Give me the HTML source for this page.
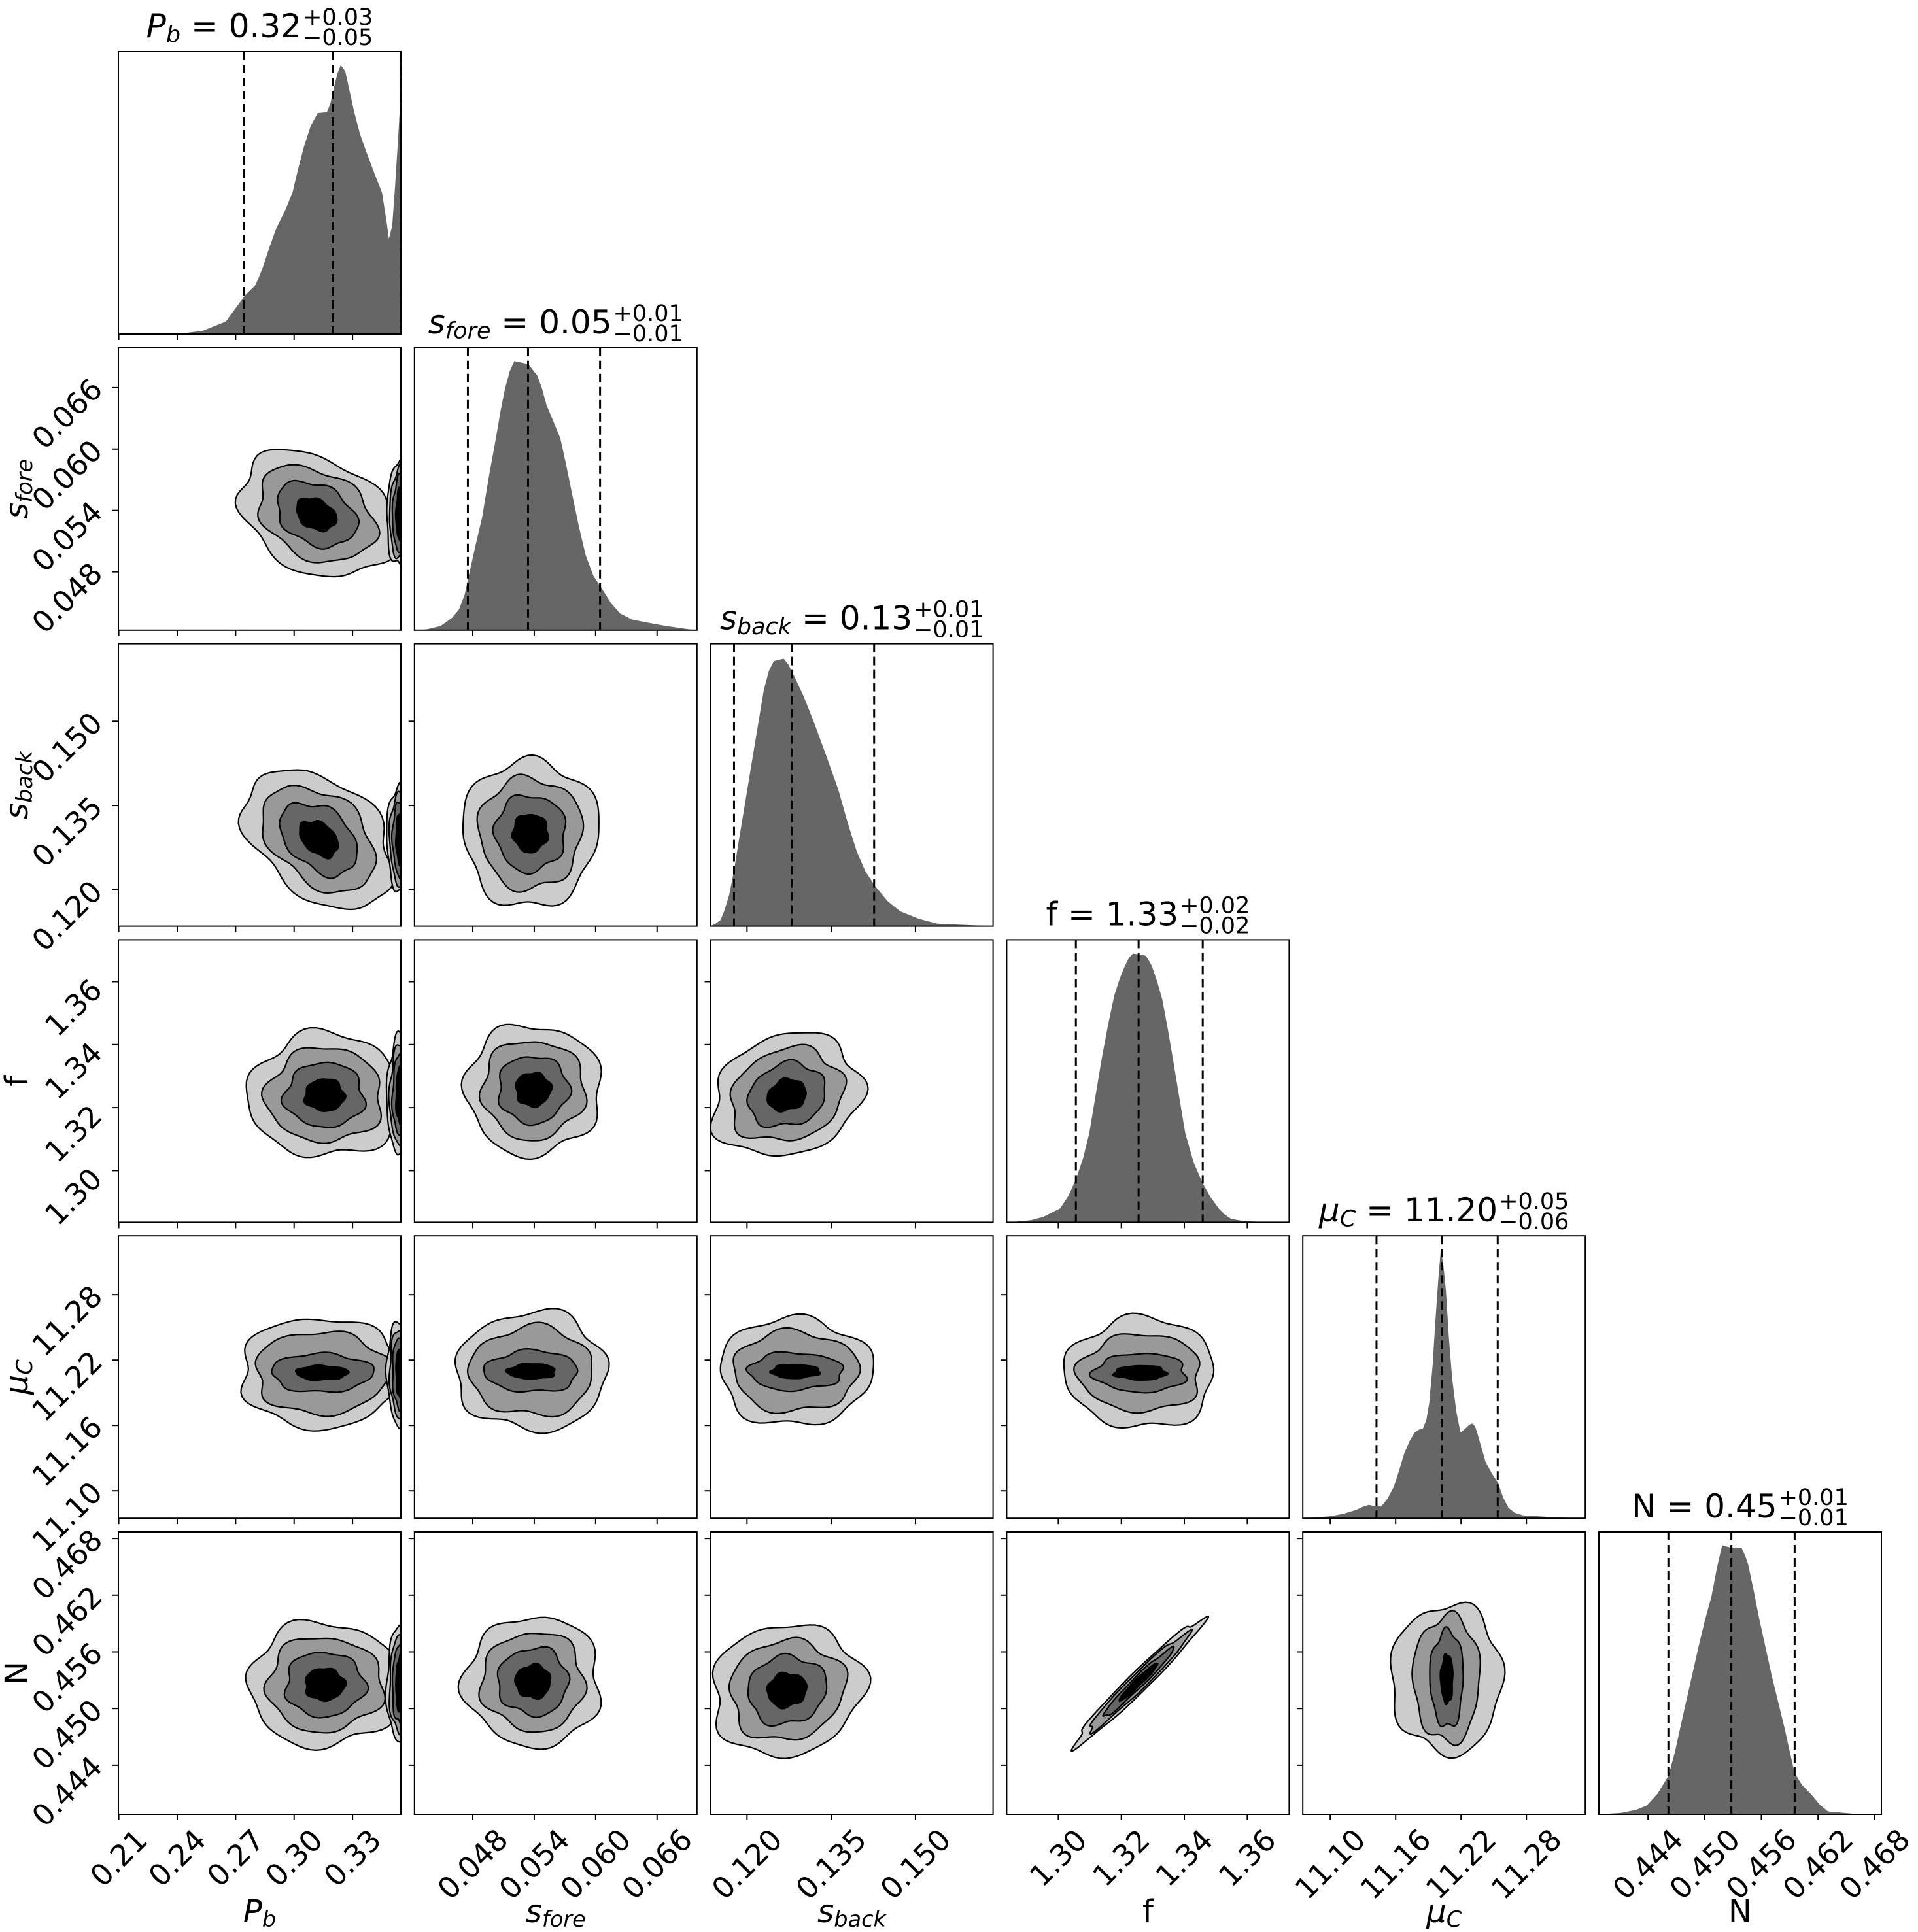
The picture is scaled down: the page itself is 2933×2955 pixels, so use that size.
<!DOCTYPE html>
<html><head><meta charset="utf-8">
<style>html,body{margin:0;padding:0;background:#fff;}svg{display:block;}
text{font-family:"DejaVu Sans","Liberation Sans",sans-serif;fill:#000;}</style></head>
<body>
<svg id="s" xmlns="http://www.w3.org/2000/svg" width="2933" height="2955" viewBox="0 0 2933 2955"></svg>
<script>
var NS="http://www.w3.org/2000/svg";
var svg=document.getElementById('s');
function el(tag,attrs,parent){var e=document.createElementNS(NS,tag);for(var k in attrs)e.setAttribute(k,attrs[k]);(parent||svg).appendChild(e);return e;}
var X0=181,Y0=79,S=452.8,W=432,TF=45;
function px(j){return X0+j*S;} function py(i){return Y0+i*S;}
var V=[
{lo:.2098,hi:.3548,ticks:[.21,.24,.27,.30,.33],d:2},
{lo:.0423,hi:.0699,ticks:[.048,.054,.060,.066],d:3},
{lo:.11351,hi:.16382,ticks:[.120,.135,.150],d:3},
{lo:1.2836,hi:1.3733,ticks:[1.30,1.32,1.34,1.36],d:2},
{lo:11.0748,hi:11.334,ticks:[11.10,11.16,11.22,11.28],d:2},
{lo:.4388,hi:.4687,ticks:[.444,.450,.456,.462,.468],d:3}];
function label(t,k,size){
  var sub=function(s){var ts=el('tspan',{'font-size':size*0.7,'font-style':'italic',dy:size*0.15},t);ts.textContent=s;};
  var main=function(s,it){var ts=el('tspan',{'font-style':it?'italic':'normal'},t);ts.textContent=s;};
  if(k==0){main('P',1);sub('b');}
  else if(k==1){main('s',1);sub('fore');}
  else if(k==2){main('s',1);sub('back');}
  else if(k==3){main('f',0);}
  else if(k==4){main('\u03bc',1);sub('C');}
  else {main('N',0);}
}
var titles=[['0.32','+0.03','\u22120.05'],['0.05','+0.01','\u22120.01'],['0.13','+0.01','\u22120.01'],['1.33','+0.02','\u22120.02'],['11.20','+0.05','\u22120.06'],['0.45','+0.01','\u22120.01']];
var H=[
{b:[256,871,123,798],p:[[256,798],[390,797],[440,790],[490,768],[532,705],[555,680],[570,640],[585,590],[600,545],[620,500],[635,460],[648,400],[660,350],[675,300],[690,270],[710,268],[718,245],[725,210],[733,175],[740,155],[750,170],[760,220],[770,270],[782,320],[795,360],[812,410],[830,460],[840,530],[845,570],[852,540],[858,450],[865,330],[871,215],[871,798]],q:[.445,.76,1.0]},
{b:[903,1517,833,1510],p:[[903,1510],[930,1508],[960,1500],[985,1480],[1000,1460],[1012,1425],[1020,1385],[1035,1310],[1050,1240],[1065,1140],[1080,1050],[1090,985],[1100,930],[1110,890],[1120,865],[1150,872],[1170,900],[1180,930],[1190,970],[1205,1010],[1220,1050],[1232,1110],[1245,1180],[1260,1260],[1275,1330],[1292,1380],[1310,1410],[1330,1445],[1350,1470],[1375,1484],[1400,1490],[1450,1500],[1500,1508],[1517,1510]],q:[.189,.402,.657]},
{b:[577,805,523,750],p:[[577,750],[581,748],[585,745],[588,738],[592,725],[596,705],[600,680],[605,650],[610,620],[615,590],[620,560],[624,545],[628,537],[636,535],[640,540],[645,550],[652,565],[660,585],[670,612],[680,640],[688,668],[695,690],[702,706],[710,718],[720,730],[730,738],[745,744],[760,748],[805,750]],q:[.083,.289,.579]},
{b:[62,739,137,813],p:[[62,813],[90,811],[120,808],[150,800],[190,780],[210,750],[228,710],[245,660],[260,600],[275,510],[290,420],[305,340],[320,270],[333,230],[345,200],[355,180],[365,170],[395,175],[403,187],[410,200],[422,235],[435,280],[448,350],[460,420],[475,510],[490,600],[510,670],[532,720],[550,752],[570,780],[585,795],[600,805],[630,810],[670,812],[739,813]],q:[.245,.467,.694]},
{b:[772,1449,849,1525],p:[[772,1525],[840,1520],[870,1514],[900,1505],[915,1498],[930,1493],[945,1496],[960,1497],[975,1478],[990,1450],[1003,1410],[1015,1370],[1028,1340],[1040,1320],[1050,1313],[1060,1310],[1068,1290],[1075,1250],[1083,1160],[1090,1050],[1097,950],[1103,880],[1109,920],[1115,980],[1122,1090],[1130,1190],[1140,1270],[1150,1320],[1162,1310],[1170,1302],[1178,1298],[1185,1305],[1190,1320],[1200,1355],[1210,1390],[1225,1418],[1240,1440],[1252,1475],[1265,1500],[1280,1512],[1300,1518],[1380,1523],[1449,1525]],q:[.261,.493,.69]},
{b:[829,1484,210,1170],p:[[829,1170],[880,1165],[915,1155],[940,1140],[965,1100],[990,1040],[1005,960],[1020,860],[1040,730],[1060,600],[1075,510],[1090,430],[1103,330],[1115,255],[1130,262],[1160,265],[1168,290],[1175,320],[1188,410],[1200,500],[1215,600],[1230,700],[1245,790],[1260,880],[1272,960],[1283,1030],[1300,1070],[1320,1100],[1340,1135],[1360,1160],[1420,1168],[1484,1170]],q:[.246,.469,.693]}];
var defs=el('defs',{});
function clipFor(i,j){var id='c'+i+'_'+j;var c=el('clipPath',{id:id},defs);el('rect',{x:px(j),y:py(i),width:W,height:W},c);return 'url(#'+id+')';}
function blob(g,x0,y0,c){
  var cols=['#cccccc','#999999','#666666','#000000'];
  var sx=c.sx||[1,.76,.52,.26], sy=c.sy||[1,.76,.52,.26];
  for(var k=0;k<4;k++){
    var pts=[];var n=90;var a=c.rot*Math.PI/180;
    for(var m=0;m<n;m++){
      var t=2*Math.PI*m/n;
      var r=1+0.05*Math.sin(5*t+c.seed+k)+0.04*Math.sin(7*t+2*c.seed+k*2)+0.03*Math.sin(3*t+c.seed*3);
      var ex=c.rx*sx[k]*r*Math.cos(t)*W, ey=c.ry*sy[k]*r*Math.sin(t)*W;
      var X=x0+c.cx*W+ex*Math.cos(a)-ey*Math.sin(a), Y=y0+c.cy*W+ex*Math.sin(a)+ey*Math.cos(a);
      pts.push(X.toFixed(1)+','+Y.toFixed(1));
    }
    el('polygon',{points:pts.join(' '),fill:cols[k],stroke:'#000','stroke-width':2.2,'stroke-linejoin':'round'},g);
  }
}
var C={
'1_0':{cx:.70,cy:.59,rx:.29,ry:.2,rot:28,seed:1},
'2_0':{cx:.71,cy:.69,rx:.30,ry:.2,rot:40,seed:2},
'2_1':{cx:.41,cy:.67,rx:.24,ry:.26,rot:0,seed:3},
'3_0':{cx:.73,cy:.55,rx:.27,ry:.22,rot:0,seed:4},
'3_1':{cx:.42,cy:.53,rx:.24,ry:.23,rot:0,seed:5},
'3_2':{cx:.27,cy:.55,rx:.27,ry:.21,rot:-20,seed:6},
'4_0':{cx:.72,cy:.485,rx:.29,ry:.195,rot:0,seed:7,sx:[1,.82,.62,.32],sy:[1,.75,.35,.13]},
'4_1':{cx:.415,cy:.48,rx:.267,ry:.21,rot:0,seed:8,sx:[1,.82,.62,.32],sy:[1,.75,.35,.13]},
'4_2':{cx:.30,cy:.48,rx:.27,ry:.19,rot:0,seed:9,sx:[1,.82,.62,.32],sy:[1,.75,.35,.13]},
'4_3':{cx:.474,cy:.485,rx:.264,ry:.196,rot:0,seed:10,sx:[1,.82,.62,.35],sy:[1,.7,.35,.13]},
'5_0':{cx:.73,cy:.54,rx:.27,ry:.22,rot:0,seed:11},
'5_1':{cx:.42,cy:.53,rx:.24,ry:.23,rot:0,seed:12},
'5_2':{cx:.27,cy:.56,rx:.27,ry:.23,rot:-15,seed:13},
'5_3':{cx:.466,cy:.532,rx:.316,ry:.035,rot:-44.5,seed:0,sx:[1,.78,.55,.3],sy:[1,.8,.55,.35]},
'5_4':{cx:.51,cy:.52,rx:.197,ry:.264,rot:0,seed:14,sx:[1,.6,.3,.11],sy:[1,.85,.65,.33]}};
for(var i=0;i<6;i++){for(var j=0;j<=i;j++){
  var x0=px(j),y0=py(i);var g=el('g',{'clip-path':clipFor(i,j)});
  if(i==j){
    var h=H[i],b=h.b,pts=[];
    h.p.forEach(function(p){pts.push((x0+(p[0]-b[0])/(b[1]-b[0])*W).toFixed(1)+','+(y0+(p[1]-b[2])/(b[3]-b[2])*W).toFixed(1));});
    el('polygon',{points:pts.join(' '),fill:'#666666','stroke-linejoin':'round'},g);
    h.q.forEach(function(q){var xx=x0+q*W;el('line',{x1:xx,x2:xx,y1:y0,y2:y0+W,stroke:'#000','stroke-width':3,'stroke-dasharray':'13,7'},g);});
  } else {
    var c=C[i+'_'+j]; if(c) blob(g,x0,y0,c);
    if(j==0){
      blob(g,x0,y0,{cx:1.0,cy:c.cy,rx:.05,ry:c.ry*0.95,rot:0,seed:20+i,sx:[1,.8,.6,.35],sy:[1,.85,.7,.5]});
    }
  }
  el('rect',{x:x0,y:y0,width:W,height:W,fill:'none',stroke:'#000','stroke-width':2});
  var v=V[j];
  v.ticks.forEach(function(t){var xx=x0+(t-v.lo)/(v.hi-v.lo)*W;el('line',{x1:xx,x2:xx,y1:y0+W,y2:y0+W+9,stroke:'#000','stroke-width':2});
    if(i==5){var s=t.toFixed(v.d);var wl=s.length*0.6*TF;var cy=y0+W+16+(0.707*wl+25)/2;
      var tx=el('text',{x:xx,y:cy,'font-size':TF,'text-anchor':'middle','dominant-baseline':'central',transform:'rotate(-45 '+xx+' '+cy+')'});tx.textContent=s;}
  });
  if(i!=j){var vy=V[i];
    vy.ticks.forEach(function(t){var yy=y0+W-(t-vy.lo)/(vy.hi-vy.lo)*W;el('line',{x1:x0-9,x2:x0,y1:yy,y2:yy,stroke:'#000','stroke-width':2});
      if(j==0){var s=t.toFixed(vy.d);var wl=s.length*0.6*TF;var cx=x0-18-(0.707*wl+25)/2;var cy=yy+40;
        var tx=el('text',{x:cx,y:cy,'font-size':TF,'text-anchor':'middle','dominant-baseline':'central',transform:'rotate(-45 '+cx+' '+cy+')'});tx.textContent=s;}
    });
  }
}}
for(var k=0;k<6;k++){
  var t=el('text',{x:px(k)+W/2,y:2940,'font-size':48,'text-anchor':'middle'});label(t,k,48);
  if(k>0){var yc=py(k)+W/2;var t2=el('text',{x:0,y:0,'font-size':48,'text-anchor':'middle',transform:'translate(42 '+yc+') rotate(-90)'});label(t2,k,48);}
}
for(var k=0;k<6;k++){
  var g=el('g',{});var base=py(k)-22;
  var t=el('text',{x:0,y:base,'font-size':50},g);label(t,k,50);
  var ts=el('tspan',{'font-style':'normal','font-size':50,dy:(k==3||k==5)?0:-50*0.15},t);ts.textContent=' = '+titles[k][0];
  var w=t.getComputedTextLength();
  var sp=el('text',{x:w+2,y:base-19,'font-size':35},g);sp.textContent=titles[k][1];
  var sb=el('text',{x:w+2,y:base+12,'font-size':35},g);sb.textContent=titles[k][2];
  var tw=w+2+Math.max(sp.getComputedTextLength(),sb.getComputedTextLength());
  g.setAttribute('transform','translate('+(px(k)+W/2-tw/2)+' 0)');
}
</script>
</body></html>
